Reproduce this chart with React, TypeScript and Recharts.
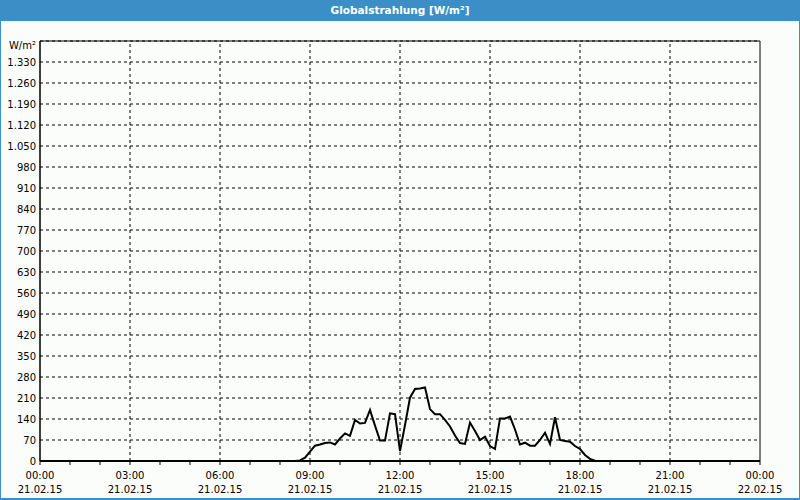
import React from "react";
import { LineChart, Line, XAxis, YAxis, CartesianGrid, ReferenceLine, ReferenceArea } from "recharts";

// minutes since 21.02.15 00:00
const sampleMinutes = [
  0, 510, 520, 530, 540, 550, 560, 570, 580, 590, 600, 610, 620, 630, 640, 650, 660, 670, 680, 690,
  700, 710, 720, 730, 740, 750, 760, 770, 780, 790, 800, 810, 820, 830, 840, 850, 860, 870, 880, 890,
  900, 910, 920, 930, 940, 950, 960, 970, 980, 990, 1000, 1010, 1020, 1030, 1040, 1050, 1060, 1070,
  1080, 1090, 1100, 1110, 1120, 1430,
];
// Globalstrahlung W/m²
const radiation = [
  0, 0, 2, 11, 31, 51, 55, 60, 62, 55, 75, 92, 84, 137, 125, 127, 170, 118, 68, 68,
  159, 156, 33, 120, 211, 240, 242, 245, 173, 156, 156, 137, 115, 85, 60, 57, 128, 100, 70, 81,
  50, 40, 142, 142, 148, 105, 55, 61, 51, 51, 70, 94, 57, 146, 70, 67, 64, 50,
  40, 20, 7, 1, 0, 0,
];

const hourTicks = [
  0, 60, 120, 180, 240, 300, 360, 420, 480, 540, 600, 660, 720, 780, 840, 900, 960, 1020, 1080,
  1140, 1200, 1260, 1320, 1380, 1440,
];
const majorTicks = [0, 180, 360, 540, 720, 900, 1080, 1260, 1440];
const majorTimeLabels = ["00:00", "03:00", "06:00", "09:00", "12:00", "15:00", "18:00", "21:00", "00:00"];
const majorDateLabels = ["21.02.15", "21.02.15", "21.02.15", "21.02.15", "21.02.15", "21.02.15", "21.02.15", "21.02.15", "22.02.15"];

const yTicks = [0, 70, 140, 210, 280, 350, 420, 490, 560, 630, 700, 770, 840, 910, 980, 1050, 1120, 1190, 1260, 1330, 1400];
const yTickLabels = ["0", "70", "140", "210", "280", "350", "420", "490", "560", "630", "700", "770", "840", "910", "980", "1.050", "1.120", "1.190", "1.260", "1.330", "W/m²"];

const title = "Globalstrahlung [W/m²]";

const data = sampleMinutes.map((m, i) => ({ t: m, v: radiation[i] }));

const FONT = "'DejaVu Sans', Verdana, sans-serif";
const BLUE = "#3b8fc6";

const XTick = (props: any) => {
  const { x, y, payload } = props;
  const idx = majorTicks.indexOf(payload.value);
  if (idx < 0) return null;
  return (
    <g>
      <text x={x} y={y + 14} textAnchor="middle" fontSize={10} fontFamily={FONT} fill="#000">
        {majorTimeLabels[idx]}
      </text>
      <text x={x} y={y + 28} textAnchor="middle" fontSize={10} fontFamily={FONT} fill="#000">
        {majorDateLabels[idx]}
      </text>
    </g>
  );
};

const YTick = (props: any) => {
  const { x, y, payload } = props;
  const idx = yTicks.indexOf(payload.value);
  const label = yTickLabels[idx];
  const extra = payload.value === 1400 ? 4 : 0;
  return (
    <text x={x} y={y + extra} dy="0.36em" textAnchor="end" fontSize={10} fontFamily={FONT} fill="#000">
      {label}
    </text>
  );
};

export default function App() {
  return (
    <div style={{ position: "absolute", left: 0, top: 0, width: 800, height: 500, background: "#fbfdfb", overflow: "hidden" }}>
      <div
        style={{
          position: "absolute",
          left: 0,
          top: 0,
          width: 800,
          height: 21,
          background: BLUE,
          color: "#fff",
          fontFamily: FONT,
          fontWeight: "bold",
          fontSize: 10.5,
          lineHeight: "21px",
          textAlign: "center",
        }}
      >
        {title}
      </div>
      <div style={{ position: "absolute", left: 0, top: 0, width: 1, height: 500, background: BLUE }} />
      <div style={{ position: "absolute", left: 799, top: 0, width: 1, height: 500, background: BLUE }} />
      <div style={{ position: "absolute", left: 0, top: 498, width: 800, height: 2, background: BLUE }} />
      <div style={{ position: "absolute", left: 0, top: 0 }}>
        <LineChart width={800} height={500} data={data} margin={{ top: 41, right: 40, bottom: 0, left: 0 }}>
          <CartesianGrid vertical={false} stroke="#000" strokeDasharray="3 3" />
          {majorTicks.slice(1, -1).map((m) => (
            <ReferenceLine key={m} x={m} stroke="#000" strokeDasharray="3 3" />
          ))}
          <XAxis
            dataKey="t"
            type="number"
            domain={[0, 1440]}
            ticks={hourTicks}
            interval={0}
            height={39}
            tickSize={4}
            tickMargin={0}
            axisLine={{ stroke: "#000", strokeWidth: 2 }}
            tickLine={{ stroke: "#000" }}
            tick={<XTick />}
          />
          <YAxis
            type="number"
            domain={[0, 1400]}
            ticks={yTicks}
            interval={0}
            width={40}
            tickSize={0}
            tickMargin={4}
            axisLine={{ stroke: "#000" }}
            tickLine={false}
            tick={<YTick />}
          />
          <ReferenceArea x1={0} x2={1440} y1={0} y2={1400} fill="none" stroke="#000" strokeWidth={1} />
          <Line
            type="linear"
            dataKey="v"
            stroke="#000"
            strokeWidth={2}
            dot={false}
            isAnimationActive={false}
          />
        </LineChart>
      </div>
    </div>
  );
}
